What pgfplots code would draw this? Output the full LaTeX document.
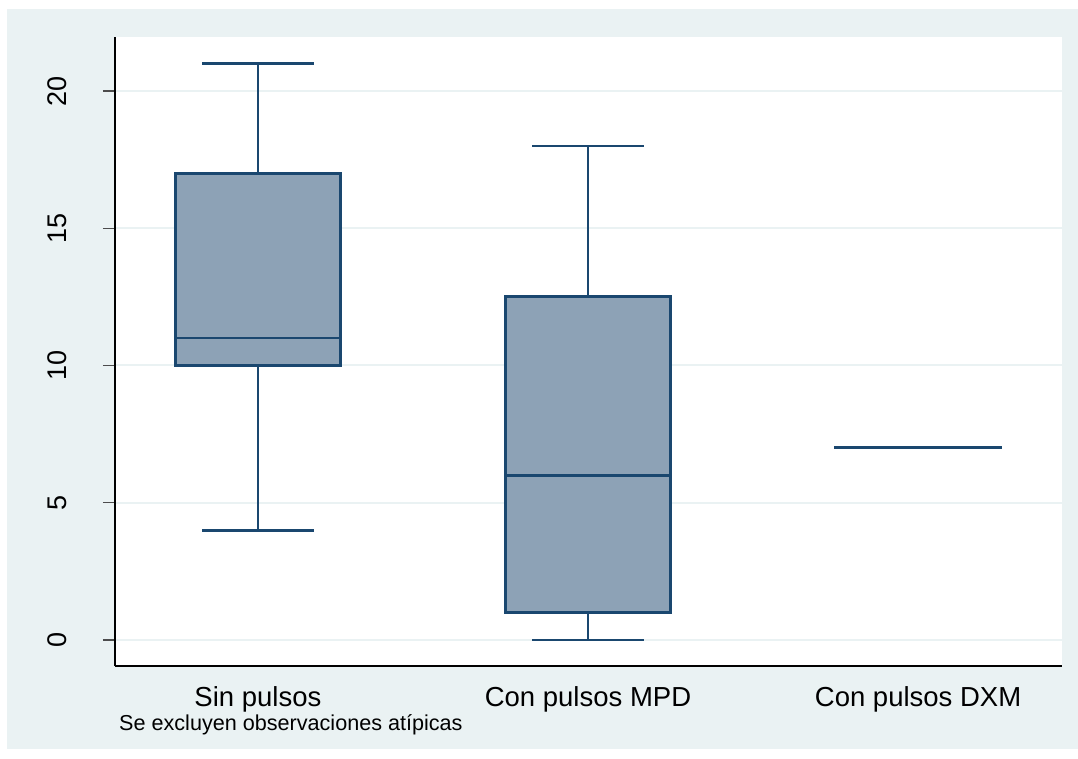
\documentclass[border=0pt]{standalone}
\usepackage{fontspec}
\setmainfont{Liberation Sans}
\usepackage{pgfplots}
\pgfplotsset{compat=1.18}
\usepgfplotslibrary{statistics}
\definecolor{stbg}{RGB}{234,242,243}
\definecolor{stnavy}{RGB}{26,71,111}
\definecolor{stfill}{RGB}{141,162,182}
\tikzset{bxline/.style={draw=stnavy, line width=2.8pt, line cap=rect}}
\begin{document}
\begin{tikzpicture}
\path[use as bounding box] (-115pt,-92pt) rectangle (963pt,666pt);
\fill[stbg] (-108pt,-83pt) rectangle (963pt,657pt);
\begin{axis}[
  at={(0pt,0pt)}, anchor=south west,
  scale only axis, width=947pt, height=629pt,
  xmin=0.567, xmax=3.436, ymin=-0.95, ymax=21.97,
  axis lines*=left,
  axis line style={black, line width=1.5pt},
  axis background/.style={fill=white},
  ytick={0,5,10,15,20},
  xtick={1,2,3},
  xticklabels={Sin pulsos, Con pulsos MPD, Con pulsos DXM},
  major tick length=12pt,
  tick align=outside,
  ytick style={black!70, line width=1.5pt},
  xtick style={draw=none},
  ymajorgrids,
  grid style={stbg, line width=2pt},
  /pgf/number format/assume math mode=true,
  tick label style={font=\fontsize{27}{31}\selectfont},
  xticklabel style={font=\fontsize{27.5}{31}\selectfont, inner sep=0pt, anchor=north},
  xticklabel shift=8pt,
  yticklabel style={rotate=90, anchor=south, inner sep=0pt},
  yticklabel shift=36pt,
  boxplot/draw direction=y,
  boxplot/draw/median/.code={%
    \draw[bxline]
      (boxplot box cs:\pgfplotsboxplotvalue{median},0) --
      (boxplot box cs:\pgfplotsboxplotvalue{median},1);},
  boxplot/draw/lower whisker/.code={%
    \draw[bxline]
      (boxplot cs:\pgfplotsboxplotvalue{lower quartile}) --
      (boxplot cs:\pgfplotsboxplotvalue{lower whisker});
    \draw[bxline]
      (boxplot whisker cs:\pgfplotsboxplotvalue{lower whisker},0) --
      (boxplot whisker cs:\pgfplotsboxplotvalue{lower whisker},1);},
  boxplot/draw/upper whisker/.code={%
    \draw[bxline]
      (boxplot cs:\pgfplotsboxplotvalue{upper quartile}) --
      (boxplot cs:\pgfplotsboxplotvalue{upper whisker});
    \draw[bxline]
      (boxplot whisker cs:\pgfplotsboxplotvalue{upper whisker},0) --
      (boxplot whisker cs:\pgfplotsboxplotvalue{upper whisker},1);},
  boxplot/every box/.style={draw=stnavy, fill=stfill, line width=2.8pt},
  clip=false,
]
\addplot[boxplot prepared={draw position=1, lower whisker=4, lower quartile=10,
  median=11, upper quartile=17, upper whisker=21, box extend=0.5, whisker extend=0.333},
  draw=stnavy, fill=stfill, line width=2.8pt, solid, mark=none] coordinates {};
\addplot[boxplot prepared={draw position=2, lower whisker=0, lower quartile=1,
  median=6, upper quartile=12.5, upper whisker=18, box extend=0.5, whisker extend=0.333},
  draw=stnavy, fill=stfill, line width=2.8pt, solid, mark=none] coordinates {};
\addplot[boxplot prepared={draw position=3, lower whisker=7, lower quartile=7,
  median=7, upper quartile=7, upper whisker=7, box extend=0.5, whisker extend=0.333},
  draw=stnavy, fill=stfill, line width=2.8pt, solid, mark=none] coordinates {};
\end{axis}
\node[anchor=base west, inner sep=0pt, font=\fontsize{21.6}{25}\selectfont] at (4pt,-64pt) {Se excluyen observaciones atípicas};
\end{tikzpicture}
\end{document}
